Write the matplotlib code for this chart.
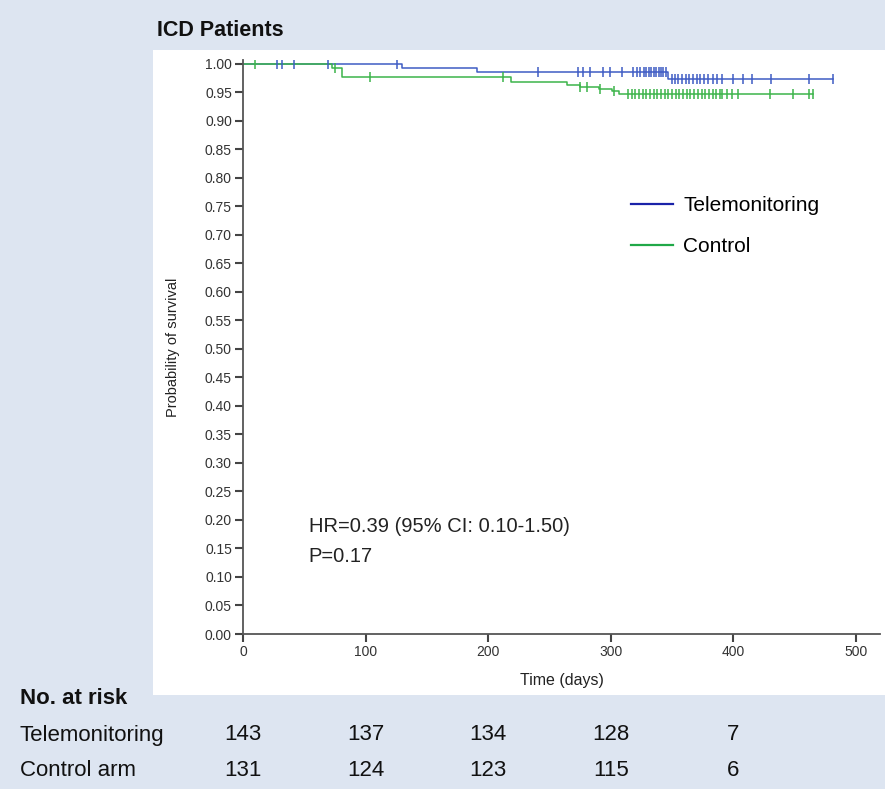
import numpy as np
import matplotlib.pyplot as plt

plt.rcParams['font.family'] = ['Liberation Sans', 'DejaVu Sans']

# Kaplan-Meier steps (time in days, survival after the step)
tele_times = [0, 130, 191, 347, 481]
tele_surv = [1.0, 0.9925, 0.9855, 0.973, 0.973]
ctrl_times = [0, 73, 81, 219, 264, 275, 290, 301, 307, 465]
ctrl_surv = [1.0, 0.9925, 0.978, 0.969, 0.963, 0.960, 0.956, 0.952, 0.948, 0.948]

# censored observations
tele_cens = [28, 32, 42, 69, 126, 241, 273, 277, 283, 294, 299, 309,
             318, 321, 324, 327, 329, 331, 333, 335, 337, 339, 341, 343, 345,
             350, 352, 355, 358, 361, 364, 367, 370, 373, 376, 379, 383, 387, 391,
             400, 408, 415, 431, 462, 481]
ctrl_cens = [10, 75, 104, 212, 275, 281, 291, 303,
             314, 317, 320, 323, 326, 329, 332, 335, 338, 341, 344, 347, 350,
             353, 356, 359, 362, 365, 368, 371, 374, 377, 380, 383, 386, 389, 391,
             395, 399, 404, 430, 449, 462, 465]

risk_times = [0, 100, 200, 300, 400]
risk_tele = [143, 137, 134, 128, 7]
risk_ctrl = [131, 124, 123, 115, 6]

yticks = np.round(np.arange(0, 1.0001, 0.05), 2)
xticks = [0, 100, 200, 300, 400, 500]

BLUE = '#3f5cc4'
GREEN = '#3cb44a'
BG = '#dde5f1'


def surv_at(times, surv, t):
    idx = np.searchsorted(times, t, side='right') - 1
    return np.asarray(surv)[idx]


W, H = 885, 789
fig = plt.figure(figsize=(W / 100, H / 100), dpi=100)
fig.patch.set_facecolor(BG)

# white panel behind the plot
bg = fig.add_axes([153 / W, 1 - 695 / H, (885 - 153) / W, (695 - 50) / H])
bg.set_facecolor('white')
bg.set_xticks([])
bg.set_yticks([])
for s in bg.spines.values():
    s.set_visible(False)

ax = fig.add_axes([243 / W, 1 - 634 / H, (880 - 243) / W, (634 - 60) / H])
ax.set_facecolor('none')

ax.step(tele_times, tele_surv, where='post', color=BLUE, lw=1.1)
ax.step(ctrl_times, ctrl_surv, where='post', color=GREEN, lw=1.1)
ax.plot(tele_cens, surv_at(tele_times, tele_surv, tele_cens), ls='none',
        marker='|', ms=7, mew=1.1, color=BLUE)
ax.plot(ctrl_cens, surv_at(ctrl_times, ctrl_surv, ctrl_cens), ls='none',
        marker='|', ms=7, mew=1.1, color=GREEN)

ax.set_xlim(0, 519.6)
ax.set_ylim(0, 1.007)
ax.set_yticks(yticks)
ax.set_yticklabels([f'{v:.2f}' for v in yticks])
ax.set_xticks(xticks)
for s in ['top', 'right']:
    ax.spines[s].set_visible(False)
for s in ['left', 'bottom']:
    ax.spines[s].set_color('#555555')
    ax.spines[s].set_linewidth(1.3)
ax.tick_params(axis='both', length=6, width=1.5, color='#444444',
               labelsize=10, labelcolor='#333333', pad=2)
ax.set_ylabel('Probability of survival', fontsize=10.5, color='#222222', labelpad=18)
ax.set_xlabel('Time (days)', fontsize=11.5, color='#222222', labelpad=10)

# legend
ax.plot([], [], color='#1a22a8', lw=1.6, label='Telemonitoring')
ax.plot([], [], color='#20a848', lw=1.6, label='Control')
h, l = ax.get_legend_handles_labels()
ax.legend(h[-2:], l[-2:], loc='upper left', bbox_to_anchor=(0.58, 0.795),
          frameon=False, fontsize=15, handlelength=2.0, handletextpad=0.5,
          labelspacing=1.05)

ax.text(0.103, (634 - 527) / (634 - 60), 'HR=0.39 (95% CI: 0.10-1.50)', transform=ax.transAxes,
        fontsize=14.5, color='#222222', va='center', ha='left')
ax.text(0.103, (634 - 556) / (634 - 60), 'P=0.17', transform=ax.transAxes,
        fontsize=14.5, color='#222222', va='center', ha='left')

fig.text(157 / W, 1 - 31 / H, 'ICD Patients', fontsize=15.5, fontweight='bold',
         va='center', ha='left', color='#111111')

# number at risk table
fig.text(20 / W, 1 - 698 / H, 'No. at risk', fontsize=16, fontweight='bold',
         va='center', ha='left', color='#111111')
fig.text(20 / W, 1 - 735 / H, 'Telemonitoring', fontsize=16, va='center', ha='left', color='#111111')
fig.text(20 / W, 1 - 771 / H, 'Control arm', fontsize=16, va='center', ha='left', color='#111111')
trans = ax.get_xaxis_transform()
y_tele = -(735 - 634) / (634 - 60)
y_ctrl = -(771 - 634) / (634 - 60)
for t, a, b in zip(risk_times, risk_tele, risk_ctrl):
    ax.text(t, y_tele, str(a), transform=trans, fontsize=16, ha='center', va='center',
            color='#111111', clip_on=False)
    ax.text(t, y_ctrl, str(b), transform=trans, fontsize=16, ha='center', va='center',
            color='#111111', clip_on=False)

fig.savefig('out.png', dpi=100, facecolor=BG)
